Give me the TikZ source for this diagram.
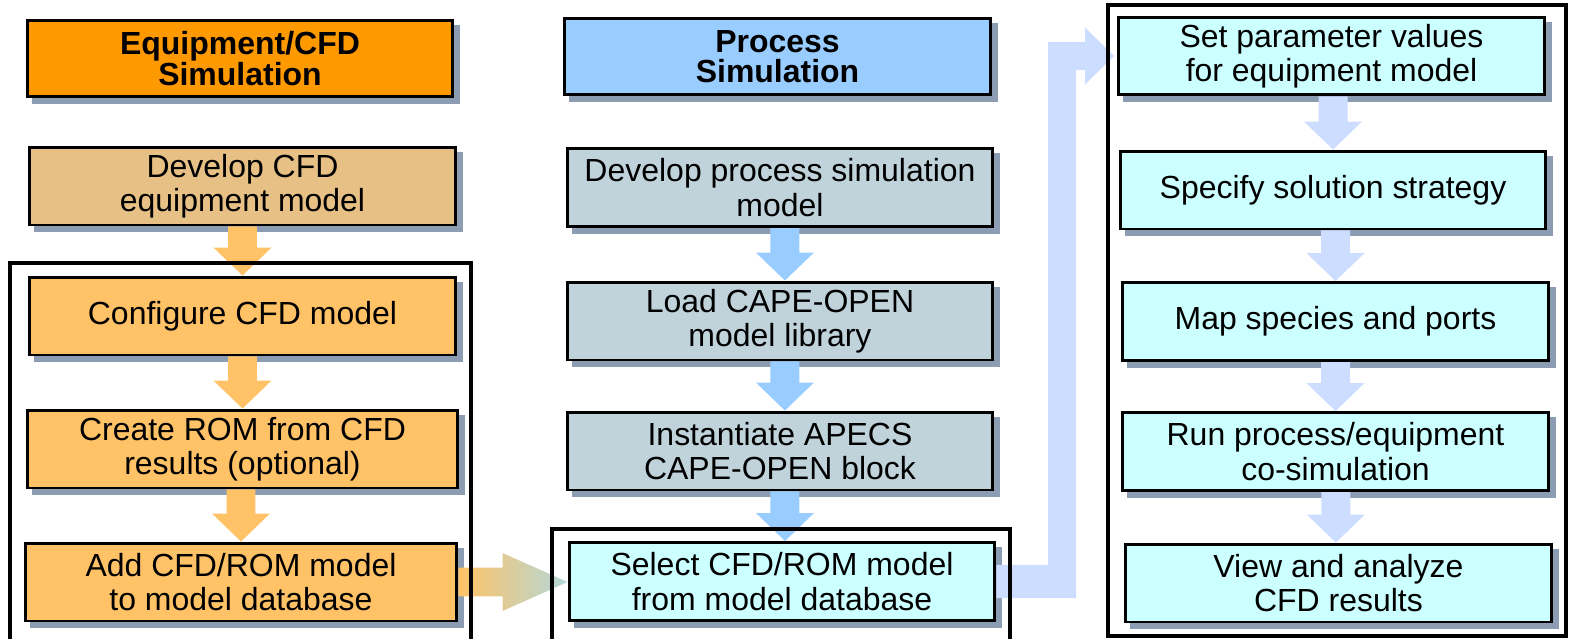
\documentclass[tikz,border=0pt]{standalone}
\usepackage{fontspec}
\setmainfont{Liberation Sans}
\usetikzlibrary{calc}
\definecolor{orangeT}{HTML}{FF9900}
\definecolor{tanb}{HTML}{E6C085}
\definecolor{lorange}{HTML}{FFC266}
\definecolor{lblue}{HTML}{99CCFF}
\definecolor{grayb}{HTML}{C0D3DB}
\definecolor{cyanb}{HTML}{CCFFFF}
\definecolor{shadowc}{HTML}{8C9CB2}
\definecolor{rarrow}{HTML}{CCDDFF}
\definecolor{marrow}{HTML}{99CCFF}
\definecolor{tealtip}{HTML}{B4D8D8}
\pgfdeclarelayer{back}
\pgfdeclarelayer{mid}
\pgfsetlayers{back,mid,main}
\newcommand\shd[1]{\fill[shadowc] ($(#1.south west)+(6,6)$) rectangle ($(#1.north east)+(6,6)$);}
\newcommand\dnarrow[4]{\fill[#3] let \p1=(#1.south), \p2=(#2.north) in
  (\x2+#4-8.25pt,\y1) -- (\x2+#4+8.25pt,\y1) -- (\x2+#4+8.25pt,\y2+15.9pt) -- (\x2+#4+16.5pt,\y2+15.9pt)
  -- (\x2+#4,\y2) -- (\x2+#4-16.5pt,\y2+15.9pt) -- (\x2+#4-8.25pt,\y2+15.9pt) -- cycle;}
\begin{document}
\begin{tikzpicture}[x=0.02cm,y=-0.02cm,
  boxbase/.style={draw=black, line width=1.7pt, inner sep=0pt, align=center,
    minimum width=8.52cm, minimum height=1.56cm},
  stepbox/.style={boxbase, font=\fontsize{18.2}{19.5}\selectfont},
  titlebox/.style={boxbase, minimum height=1.54cm, font=\bfseries\fontsize{18.2}{17.2}\selectfont},
  frame/.style={draw=black, line width=2.3pt}]
\useasboundingbox (0,0) rectangle (1570,639);

% left column
\node[titlebox, fill=orangeT] (T1) at (240,58.5) {Equipment/CFD\\Simulation};
\node[stepbox, fill=tanb] (D1) at (242.5,186) {Develop CFD\\equipment model};
\node[stepbox, fill=lorange] (C1) at (242.5,316) {Configure CFD model};
\node[stepbox, fill=lorange, minimum width=8.62cm] (R1) at (242.5,449) {Create ROM from CFD\\results (optional)};
\node[stepbox, fill=lorange, minimum width=8.64cm] (A1) at (241,582) {Add CFD/ROM model\\to model database};

% middle column
\node[titlebox, fill=lblue] (T2) at (777.5,56.5) {Process\\Simulation};
\node[stepbox, fill=grayb] (P1) at (780,187.5) {Develop process simulation\\model};
\node[stepbox, fill=grayb] (P2) at (780,321) {Load CAPE-OPEN\\model library};
\node[stepbox, fill=grayb] (P3) at (780,451) {Instantiate APECS\\CAPE-OPEN block};
\node[stepbox, fill=cyanb] (P4) at (782,581.5) {Select CFD/ROM model\\from model database};

% right column
\node[stepbox, fill=cyanb] (Q1) at (1331.5,56) {Set parameter values\\for equipment model};
\node[stepbox, fill=cyanb] (Q2) at (1333,190) {Specify solution strategy};
\node[stepbox, fill=cyanb] (Q3) at (1335.5,321.5) {Map species and ports};
\node[stepbox, fill=cyanb] (Q4) at (1335.5,451.5) {Run process/equipment\\co-simulation};
\node[stepbox, fill=cyanb] (Q5) at (1338.5,583) {View and analyze\\CFD results};

\begin{pgfonlayer}{back}
\shd{T1}\shd{D1}\shd{C1}\shd{R1}\shd{A1}
\shd{T2}\shd{P1}\shd{P2}\shd{P3}\shd{P4}
\shd{Q1}\shd{Q2}\shd{Q3}\shd{Q4}\shd{Q5}
\end{pgfonlayer}

\begin{pgfonlayer}{mid}
% left arrows
\dnarrow{D1}{C1}{lorange}{0pt}
\dnarrow{C1}{R1}{lorange}{0pt}
\dnarrow{R1}{A1}{lorange}{0pt}
% middle arrows
\dnarrow{P1}{P2}{marrow}{2.8pt}
\dnarrow{P2}{P3}{marrow}{2.8pt}
\dnarrow{P3}{P4}{marrow}{1.7pt}
% right arrows
\dnarrow{Q1}{Q2}{rarrow}{0pt}
\dnarrow{Q2}{Q3}{rarrow}{0pt}
\dnarrow{Q3}{Q4}{rarrow}{0pt}
\dnarrow{Q4}{Q5}{rarrow}{-1.5pt}
% gradient arrow
\shade[left color=lorange, right color=tealtip] let \p1=(A1.east), \p2=(P4.west) in
  (\x1,\y1+8.25pt) -- (\x2-37pt,\y1+8.25pt) -- (\x2-37pt,\y1+16.5pt) -- (\x2,\y1)
  -- (\x2-37pt,\y1-16.5pt) -- (\x2-37pt,\y1-8.25pt) -- (\x1,\y1-8.25pt) -- cycle;
% elbow arrow
\fill[rarrow] let \p1=(P4.east), \p2=(Q1.west) in
  (\x1,\y1+9.4pt) -- (\x2-39.3pt,\y1+9.4pt) -- (\x2-39.3pt,\y2+8pt) -- (\x2-18.2pt,\y2+8pt)
  -- (\x2-18.2pt,\y2+16.2pt) -- (\x2-1.7pt,\y2) -- (\x2-18.2pt,\y2-16.2pt) -- (\x2-18.2pt,\y2-8pt)
  -- (\x2-23.3pt,\y2-8pt) -- (\x2-23.3pt,\y1-9.4pt) -- (\x1,\y1-9.4pt) -- cycle;
% frames
\draw[frame] (10,650) -- (10,263) -- (471,263) -- (471,650);
\draw[frame] (552,650) -- (552,529) -- (1010,529) -- (1010,650);
\draw[frame] (1108,5) rectangle (1566,636);
\end{pgfonlayer}
\end{tikzpicture}
\end{document}
